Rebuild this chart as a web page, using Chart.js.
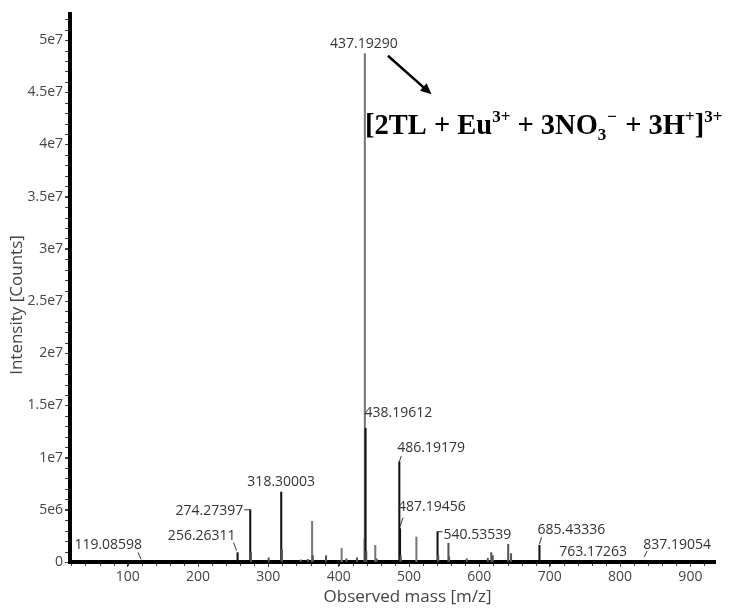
<!DOCTYPE html>
<html>
<head>
<meta charset="utf-8">
<script src="https://cdn.jsdelivr.net/npm/chart.js@4.4.1/dist/chart.umd.min.js"></script>
<style>
  html, body { margin: 0; padding: 0; background: #fff; }
  #wrap { width: 731px; height: 610px; position: relative; }
</style>
</head>
<body>
<div id="wrap"><canvas id="ms"></canvas></div>
<script>
// peaks: m/z and intensity (counts)
const mz = [119.08598, 256.26311, 274.27397, 275.28, 300.5, 318.30003, 319.3, 346, 356, 362.2, 363.2,
            382, 404.2, 411, 426, 436.9, 437.19290, 438.19612, 439.2, 452, 454, 486.19179, 487.19456,
            488.2, 510.5, 540.53539, 541.5, 556, 557, 582, 612, 617, 619, 641, 645, 685.43336,
            763.17263, 837.19054]
const intensity = [1.5e5, 0.9e6, 5.0e6, 0.9e6, 0.4e6, 6.7e6, 1.2e6, 0.2e6, 0.25e6, 3.9e6, 0.6e6,
                   0.6e6, 1.3e6, 0.3e6, 0.4e6, 2.2e6, 4.87e7, 1.28e7, 1.0e6, 1.6e6, 0.3e6, 9.6e6, 3.2e6,
                   0.6e6, 2.4e6, 2.9e6, 0.6e6, 1.8e6, 0.5e6, 0.3e6, 0.35e6, 0.9e6, 0.6e6, 1.7e6, 0.8e6, 1.6e6,
                   1.0e5, 1.0e5]

// annotated peaks
const labelMz = [119.08598, 256.26311, 274.27397, 318.30003, 437.19290, 438.19612, 486.19179,
                 487.19456, 540.53539, 685.43336, 763.17263, 837.19054]
const labelText = labelMz.map(v => v.toFixed(5))

const xTicks = [100, 200, 300, 400, 500, 600, 700, 800, 900]
const yTicks = [0, 5e6, 1e7, 1.5e7, 2e7, 2.5e7, 3e7, 3.5e7, 4e7, 4.5e7, 5e7]

// peaks that print lighter in the original
const greyPeaks = [437.19290, 362.2, 404.2, 452, 510.5]

// label placement relative to the peak top (pixels): dx, dy, align, leader segment
const labelPlace = {
  '119.08598': { dx: 1, dy: -15, align: 'right', lead: [-3, -8, 0, -1] },
  '256.26311': { dx: -2, dy: -17, align: 'right', lead: [-4, -10, -1, -2] },
  '274.27397': { dx: -7, dy: 1, align: 'right', lead: [-6, 0, 0, 0] },
  '318.30003': { dx: 0, dy: -10, align: 'center' },
  '437.19290': { dx: -1, dy: -10, align: 'center' },
  '438.19612': { dx: -1, dy: -15, align: 'left' },
  '486.19179': { dx: -2, dy: -14, align: 'left', lead: [0, 0, 2, -6] },
  '487.19456': { dx: -2, dy: -22, align: 'left', lead: [0, -2, 3, -11] },
  '540.53539': { dx: 6, dy: 3, align: 'left', lead: [0, 0, 5, 0] },
  '685.43336': { dx: -2, dy: -15, align: 'left', lead: [0, -1, 2, -8] },
  '763.17263': { dx: -1, dy: -9, align: 'center' },
  '837.19054': { dx: -3, dy: -16, align: 'left', lead: [-2, -4, 1, -10] }
}

const fmtSci = v => {
  if (v === 0) return '0'
  const e = Math.floor(Math.log10(v))
  const m = Math.round(v / Math.pow(10, e) * 100) / 100
  return m + 'e' + e
}

const peakLabels = {
  id: 'peakLabels',
  afterDatasetsDraw(chart) {
    const { ctx, scales: { x, y } } = chart
    ctx.save()
    ctx.font = '14px "Open Sans"'
    ctx.fillStyle = '#333'
    ctx.strokeStyle = '#333'
    ctx.lineWidth = 1
    ctx.textBaseline = 'middle'
    labelMz.forEach((m, i) => {
      const idx = mz.indexOf(m)
      const px = x.getPixelForValue(m)
      const py = y.getPixelForValue(intensity[idx])
      const p = labelPlace[labelText[i]]
      ctx.textAlign = p.align
      ctx.fillText(labelText[i], px + p.dx, py + p.dy)
      if (p.lead) {
        ctx.beginPath()
        ctx.moveTo(px + p.lead[0], py + p.lead[1])
        ctx.lineTo(px + p.lead[2], py + p.lead[3])
        ctx.stroke()
      }
    })
    ctx.restore()
  }
}

const minorTicks = {
  id: 'minorTicks',
  afterDraw(chart) {
    const { ctx, chartArea, scales: { x, y } } = chart
    ctx.save()
    ctx.strokeStyle = '#444'
    ctx.lineWidth = 1
    ctx.beginPath()
    for (let v = 1e6; v < y.max; v += 1e6) {
      const py = Math.round(y.getPixelForValue(v)) + 0.5
      ctx.moveTo(chartArea.left - 5, py)
      ctx.lineTo(chartArea.left - 2, py)
    }
    for (let v = 20; v < x.max; v += 20) {
      if (v < x.min) continue
      const px = Math.round(x.getPixelForValue(v)) + 0.5
      ctx.moveTo(px, chartArea.bottom + 2)
      ctx.lineTo(px, chartArea.bottom + 4)
    }
    ctx.stroke()
    ctx.restore()
  }
}

// axis titles, placed a little off-centre like the original
const axisTitles = {
  id: 'axisTitles',
  afterDraw(chart) {
    const { ctx, chartArea } = chart
    ctx.save()
    ctx.font = '17px "Open Sans"'
    ctx.fillStyle = '#444'
    ctx.textAlign = 'center'
    ctx.textBaseline = 'middle'
    ctx.fillText('Observed mass [m/z]', (chartArea.left + chartArea.right) / 2 + 15, 597)
    ctx.translate(17, (chartArea.top + chartArea.bottom) / 2 + 17)
    ctx.rotate(-Math.PI / 2)
    ctx.fillText('Intensity [Counts]', 0, 0)
    ctx.restore()
  }
}

// ion assignment and arrow, placed in data coordinates
const ionNote = {
  id: 'ionNote',
  afterDraw(chart) {
    const { ctx, scales: { x, y } } = chart
    const ax1 = x.getPixelForValue(470), ay1 = y.getPixelForValue(4.85e7)
    const ax2 = x.getPixelForValue(532), ay2 = y.getPixelForValue(4.48e7)
    ctx.save()
    ctx.strokeStyle = '#000'
    ctx.fillStyle = '#000'
    ctx.lineWidth = 2.5
    const ang = Math.atan2(ay2 - ay1, ax2 - ax1)
    ctx.beginPath()
    ctx.moveTo(ax1, ay1)
    ctx.lineTo(ax2 - 8 * Math.cos(ang), ay2 - 8 * Math.sin(ang))
    ctx.stroke()
    ctx.beginPath()
    ctx.moveTo(ax2, ay2)
    ctx.lineTo(ax2 - 11 * Math.cos(ang) + 5 * Math.sin(ang), ay2 - 11 * Math.sin(ang) - 5 * Math.cos(ang))
    ctx.lineTo(ax2 - 11 * Math.cos(ang) - 5 * Math.sin(ang), ay2 - 11 * Math.sin(ang) + 5 * Math.cos(ang))
    ctx.closePath()
    ctx.fill()

    const parts = [
      ['[2TL + Eu', 0], ['3+', 1], [' + 3NO', 0], ['3', -1], ['\u2212', 2], [' + 3H', 0], ['+', 1], [']', 0], ['3+', 1]
    ]
    const big = 'bold 28.5px "Liberation Serif"', small = 'bold 17px "Liberation Serif"'
    let tx = x.getPixelForValue(437.5)
    const ty = y.getPixelForValue(4.1e7)
    ctx.textAlign = 'left'
    ctx.textBaseline = 'alphabetic'
    parts.forEach(([t, k]) => {
      ctx.font = k === 0 ? big : small
      if (k === 2) {
        ctx.fillText(t, tx + 1, ty - 12)
        tx += ctx.measureText(t).width + 2
        return
      }
      const dy = k === 1 ? -12 : (k === -1 ? 6 : 0)
      ctx.fillText(t, tx, ty + dy)
      tx += ctx.measureText(t).width
    })
    ctx.restore()
  }
}

const points = mz.map((m, i) => ({ x: m, y: intensity[i] }))
const barColors = mz.map(m => greyPeaks.includes(m) ? '#777' : (labelMz.includes(m) ? '#111' : '#555'))

new Chart(document.getElementById('ms'), {
  type: 'bar',
  data: {
    datasets: [{
      label: 'Intensity',
      data: points,
      backgroundColor: barColors,
      borderWidth: 0,
      barThickness: 1.4,
      grouped: false
    }]
  },
  options: {
    responsive: true,
    maintainAspectRatio: false,
    animation: false,
    layout: { padding: { top: 14, right: 16, left: 0, bottom: 0 } },
    plugins: { legend: { display: false }, tooltip: { enabled: false } },
    scales: {
      x: {
        type: 'linear',
        min: 18,
        max: 935,
        offset: false,
        afterBuildTicks: s => { s.ticks = xTicks.map(v => ({ value: v })) },
        afterFit: s => { s.height = 48 },
        ticks: { font: { family: 'Open Sans', size: 14 }, color: '#444', padding: 2, maxRotation: 0 },
        grid: { drawOnChartArea: false, offset: false, tickLength: 5, tickColor: '#444' },
        border: { color: '#000', width: 4 }
      },
      y: {
        min: 0,
        max: 5.25e7,
        afterBuildTicks: s => { s.ticks = yTicks.map(v => ({ value: v })) },
        afterFit: s => { s.width = 70 },
        ticks: { font: { family: 'Open Sans', size: 14 }, color: '#444', padding: 2, autoSkip: false, callback: v => fmtSci(v) },
        grid: { drawOnChartArea: false, tickLength: 5, tickColor: '#444' },
        border: { color: '#000', width: 4 }
      }
    }
  },
  plugins: [peakLabels, minorTicks, axisTitles, ionNote]
})
</script>
</body>
</html>
